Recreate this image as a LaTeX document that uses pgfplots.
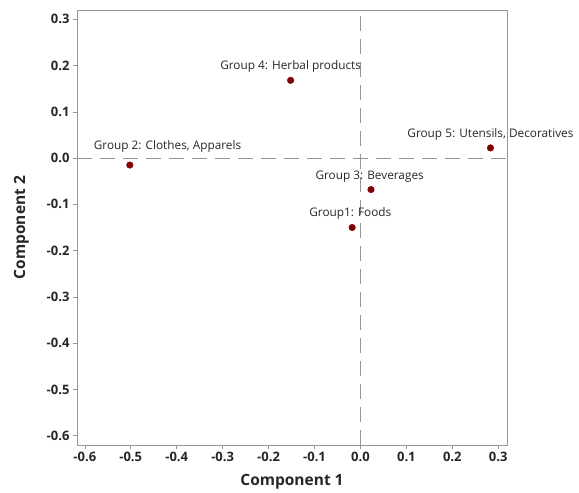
\documentclass[border=0pt]{standalone}
\usepackage{fontspec}
\setmainfont{Open Sans}
\usepackage{pgfplots}
\pgfplotsset{compat=1.18}
\definecolor{axgray}{RGB}{150,150,150}
\definecolor{ptred}{RGB}{128,0,0}
\begin{document}
\begin{tikzpicture}
\begin{axis}[
  scale only axis,
  width=430pt, height=435pt,
  xmin=-0.617, xmax=0.319,
  ymin=-0.62, ymax=0.32,
  xtick={-0.6,-0.5,...,0.31},
  ytick={-0.6,-0.5,...,0.31},
  /pgf/number format/assume math mode=true,
  xticklabel style={/pgf/number format/.cd,fixed,fixed zerofill,precision=1},
  yticklabel style={/pgf/number format/.cd,fixed,fixed zerofill,precision=1},
  ticklabel style={font=\fontsize{13}{15}\selectfont\bfseries, text=black!85},
  tick align=outside,
  xtick pos=bottom, ytick pos=left,
  major tick length=4pt,
  tick style={axgray, line width=0.6pt},
  axis line style={axgray, line width=0.8pt},
  xlabel={Component 1}, ylabel={Component 2},
  label style={font=\fontsize{15.5}{18}\selectfont\bfseries, text=black!85},
  xlabel style={yshift=-5pt},
  ylabel style={yshift=11pt},
  clip=false,
]
\draw[axgray, line width=0.8pt, dash pattern=on 15pt off 8pt] (axis cs:0,-0.62) -- (axis cs:0,0.32);
\draw[axgray, line width=0.8pt, dash pattern=on 15pt off 8pt] (axis cs:-0.617,0) -- (axis cs:0.319,0);
\addplot[only marks, mark=*, mark size=3.3pt, mark options={fill=ptred, draw=ptred}] coordinates {
  (-0.018,-0.150)
  (-0.502,-0.015)
  (0.023,-0.068)
  (-0.152,0.168)
  (0.283,0.022)
};
\begin{scope}[every node/.style={font=\fontsize{11.8}{14}\selectfont, text=black!85, inner sep=0pt}]
\node at (axis cs:-0.022,-0.120) {Group1: Foods};
\node at (axis cs:-0.420,0.026) {Group 2: Clothes, Apparels};
\node at (axis cs:0.020,-0.041) {Group 3: Beverages};
\node at (axis cs:-0.152,0.197) {Group 4: Herbal products};
\node at (axis cs:0.283,0.052) {Group 5: Utensils, Decoratives};
\end{scope}
\end{axis}
\path (-77pt,-47pt) rectangle (502pt,445pt);
\end{tikzpicture}
\end{document}
